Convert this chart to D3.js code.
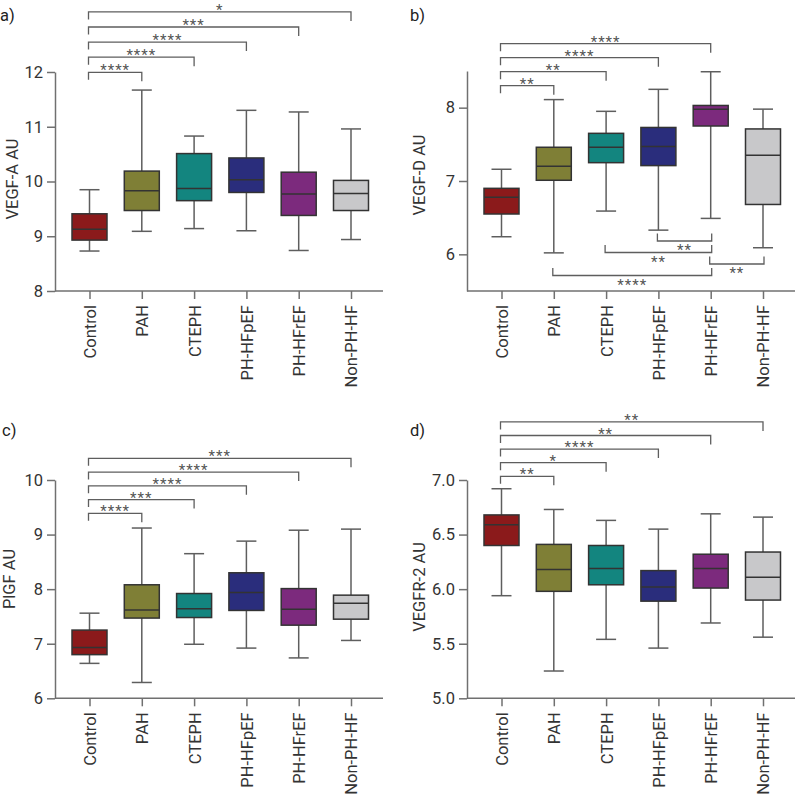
<!DOCTYPE html>
<html><head><meta charset="utf-8">
<script src="https://cdn.jsdelivr.net/npm/d3@7"></script>
<style>body{margin:0;background:#fff} svg{display:block} text{font-family:Roboto,"DejaVu Sans",sans-serif}</style>
</head><body><svg id="chart" width="796" height="802"></svg>
<script>
const categories = ["Control","PAH","CTEPH","PH-HFpEF","PH-HFrEF","Non-PH-HF"];
const colors = ["#8b1a1b","#7f7f36","#13857f","#2a2d7c","#7c2a7d","#c8c8ca"];
// five-number summaries per group: [min, q1, median, q3, max]
const vegfA = [[8.73,8.93,9.13,9.41,9.85],[9.09,9.47,9.83,10.19,11.67],[9.14,9.65,9.87,10.51,10.83],[9.10,9.80,10.03,10.43,11.30],[8.74,9.38,9.77,10.17,11.27],[8.94,9.47,9.78,10.02,10.96]];
const vegfD = [[6.24,6.55,6.78,6.90,7.16],[6.02,7.01,7.20,7.46,8.11],[6.59,7.25,7.46,7.65,7.95],[6.33,7.21,7.47,7.73,8.25],[6.49,7.75,7.98,8.03,8.49],[6.09,6.68,7.35,7.71,7.98]];
const plgf = [[6.64,6.80,6.93,7.25,7.56],[6.29,7.47,7.62,8.08,9.12],[6.99,7.48,7.64,7.92,8.65],[6.92,7.61,7.94,8.30,8.88],[6.74,7.34,7.63,8.01,9.08],[7.06,7.45,7.74,7.89,9.10]];
const vegfr2 = [[5.94,6.40,6.59,6.68,6.92],[5.25,5.98,6.18,6.41,6.73],[5.54,6.04,6.19,6.40,6.63],[5.46,5.89,6.02,6.17,6.55],[5.69,6.01,6.19,6.32,6.69],[5.56,5.90,6.11,6.34,6.66]];
// y ticks
const ticksA = [8,9,10,11,12];
const ticksD = [6,7,8];
const ticksP = [6,7,8,9,10];
const ticksR = [5.0,5.5,6.0,6.5,7.0];
// significance brackets [from, to, label]
const sigA = [["Control","PAH","****"],["Control","CTEPH","****"],["Control","PH-HFpEF","****"],["Control","PH-HFrEF","***"],["Control","Non-PH-HF","*"]];
const sigD = [["Control","PAH","**"],["Control","CTEPH","**"],["Control","PH-HFpEF","****"],["Control","PH-HFrEF","****"]];
const sigDBelow = [["PH-HFpEF","PH-HFrEF","**"],["CTEPH","PH-HFrEF","**"],["PH-HFrEF","Non-PH-HF","**"],["PAH","PH-HFrEF","****"]];
const sigP = [["Control","PAH","****"],["Control","CTEPH","***"],["Control","PH-HFpEF","****"],["Control","PH-HFrEF","****"],["Control","Non-PH-HF","***"]];
const sigR = [["Control","PAH","**"],["Control","CTEPH","*"],["Control","PH-HFpEF","****"],["Control","PH-HFrEF","**"],["Control","Non-PH-HF","**"]];

const panels = [
  {label:"a)", title:"VEGF-A AU", data:vegfA, ticks:ticksA, domain:[8,12], fmt:d3.format("d"), sig:sigA, below:[],
   left:55, top:72, bottom:291, labelX:0, labelY:21, titleOff:37, titleY:179, sigY0:72.3, sigStep:15.1},
  {label:"b)", title:"VEGF-D AU", data:vegfD, ticks:ticksD, domain:[5.5,8.5], fmt:d3.format("d"), sig:sigD, below:sigDBelow,
   left:467, top:71, bottom:291, labelX:410, labelY:21, titleOff:42, titleY:175, sigY0:85.7, sigStep:14, belowY0:241, belowStep:11.5},
  {label:"c)", title:"PlGF AU", data:plgf, ticks:ticksP, domain:[6,10], fmt:d3.format("d"), sig:sigP, below:[],
   left:55, top:480, bottom:698.3, labelX:2, labelY:436, titleOff:40, titleY:579, sigY0:513.3, sigStep:13.75},
  {label:"d)", title:"VEGFR-2 AU", data:vegfr2, ticks:ticksR, domain:[5,7], fmt:d3.format(".1f"), sig:sigR, below:[],
   left:467, top:480, bottom:698.3, labelX:410, labelY:436, titleOff:42, titleY:587, sigY0:476.3, sigStep:13.6}
];

const svg = d3.select("#chart");
const FS = 16.5;
const axisColor = "#707070", whiskerColor = "#5e5e5e", boxStroke = "#333";

panels.forEach(p => {
  const x = d3.scalePoint().domain(categories).range([p.left + 34.5, p.left + 296]);
  const y = d3.scaleLinear().domain(p.domain).range([p.bottom, p.top]);

  svg.append("text").attr("x", p.labelX).attr("y", p.labelY).attr("font-size", FS).attr("fill", "#222").text(p.label);

  // y axis
  const gy = svg.append("g").attr("transform", `translate(${p.left},0)`)
    .call(d3.axisLeft(y).tickValues(p.ticks).tickFormat(p.fmt).tickSize(8).tickSizeOuter(0).tickPadding(4));
  gy.select(".domain").attr("stroke", axisColor).attr("stroke-width", 1.5);
  gy.selectAll(".tick line").attr("stroke", axisColor).attr("stroke-width", 1.5);
  gy.selectAll(".tick text").attr("font-size", FS).attr("font-family", "Roboto").attr("fill", "#333");

  // x axis
  const gx = svg.append("g").attr("transform", `translate(0,${p.bottom})`)
    .call(d3.axisBottom(x).tickSize(8).tickSizeOuter(0));
  gx.select(".domain").remove();
  gx.append("line").attr("x1", p.left).attr("x2", p.left + 328).attr("stroke", axisColor).attr("stroke-width", 1.5);
  gx.selectAll(".tick line").attr("stroke", axisColor).attr("stroke-width", 1.5);
  gx.selectAll(".tick text").attr("font-size", FS).attr("font-family", "Roboto").attr("fill", "#333")
    .attr("text-anchor", "end").attr("x", 0).attr("y", 0).attr("dy", "0.36em")
    .attr("transform", "translate(0,14) rotate(-90)");

  // y title
  svg.append("text").attr("transform", `translate(${p.left - p.titleOff},${p.titleY}) rotate(-90)`)
    .attr("text-anchor", "middle").attr("font-size", FS).attr("fill", "#333").text(p.title);

  // boxes
  const bw = 35, cw = 20;
  const g = svg.append("g");
  p.data.forEach((d, i) => {
    const cx = x(categories[i]);
    const [mn, q1, md, q3, mx] = d;
    const gg = g.append("g");
    gg.append("line").attr("x1", cx).attr("x2", cx).attr("y1", y(mx)).attr("y2", y(q3)).attr("stroke", whiskerColor).attr("stroke-width", 1.5);
    gg.append("line").attr("x1", cx).attr("x2", cx).attr("y1", y(q1)).attr("y2", y(mn)).attr("stroke", whiskerColor).attr("stroke-width", 1.5);
    gg.append("line").attr("x1", cx - cw/2).attr("x2", cx + cw/2).attr("y1", y(mx)).attr("y2", y(mx)).attr("stroke", whiskerColor).attr("stroke-width", 1.5);
    gg.append("line").attr("x1", cx - cw/2).attr("x2", cx + cw/2).attr("y1", y(mn)).attr("y2", y(mn)).attr("stroke", whiskerColor).attr("stroke-width", 1.5);
    gg.append("rect").attr("x", cx - bw/2).attr("width", bw).attr("y", y(q3)).attr("height", y(q1) - y(q3))
      .attr("fill", colors[i]).attr("stroke", boxStroke).attr("stroke-width", 1.5);
    gg.append("line").attr("x1", cx - bw/2).attr("x2", cx + bw/2).attr("y1", y(md)).attr("y2", y(md)).attr("stroke", boxStroke).attr("stroke-width", 1.5);
  });

  // significance brackets above
  const sg = svg.append("g").attr("stroke", "#5e5e5e").attr("stroke-width", 1.3).attr("fill", "none");
  p.sig.forEach((s, k) => {
    const L = p.sigY0 - k * p.sigStep;
    const x1 = x(s[0]) - 1, x2 = x(s[1]);
    sg.append("path").attr("d", `M${x1},${L + 7.5}V${L}H${x2}V${L + 9}`);
    svg.append("text").attr("x", (x1 + x2) / 2).attr("y", L + 3).attr("text-anchor", "middle")
      .attr("font-size", 15).attr("letter-spacing", "1px").attr("fill", "#555").text(s[2]);
  });
  // significance brackets below
  p.below.forEach((s, k) => {
    const L = p.belowY0 + k * p.belowStep;
    const x1 = x(s[0]) - 1, x2 = x(s[1]) + 1;
    sg.append("path").attr("d", `M${x1},${L - 7.5}V${L}H${x2}V${L - 7.5}`);
    svg.append("text").attr("x", (x1 + x2) / 2).attr("y", L + 14).attr("text-anchor", "middle")
      .attr("font-size", 15).attr("letter-spacing", "1px").attr("fill", "#555").text(s[2]);
  });
});
</script>
</body></html>
